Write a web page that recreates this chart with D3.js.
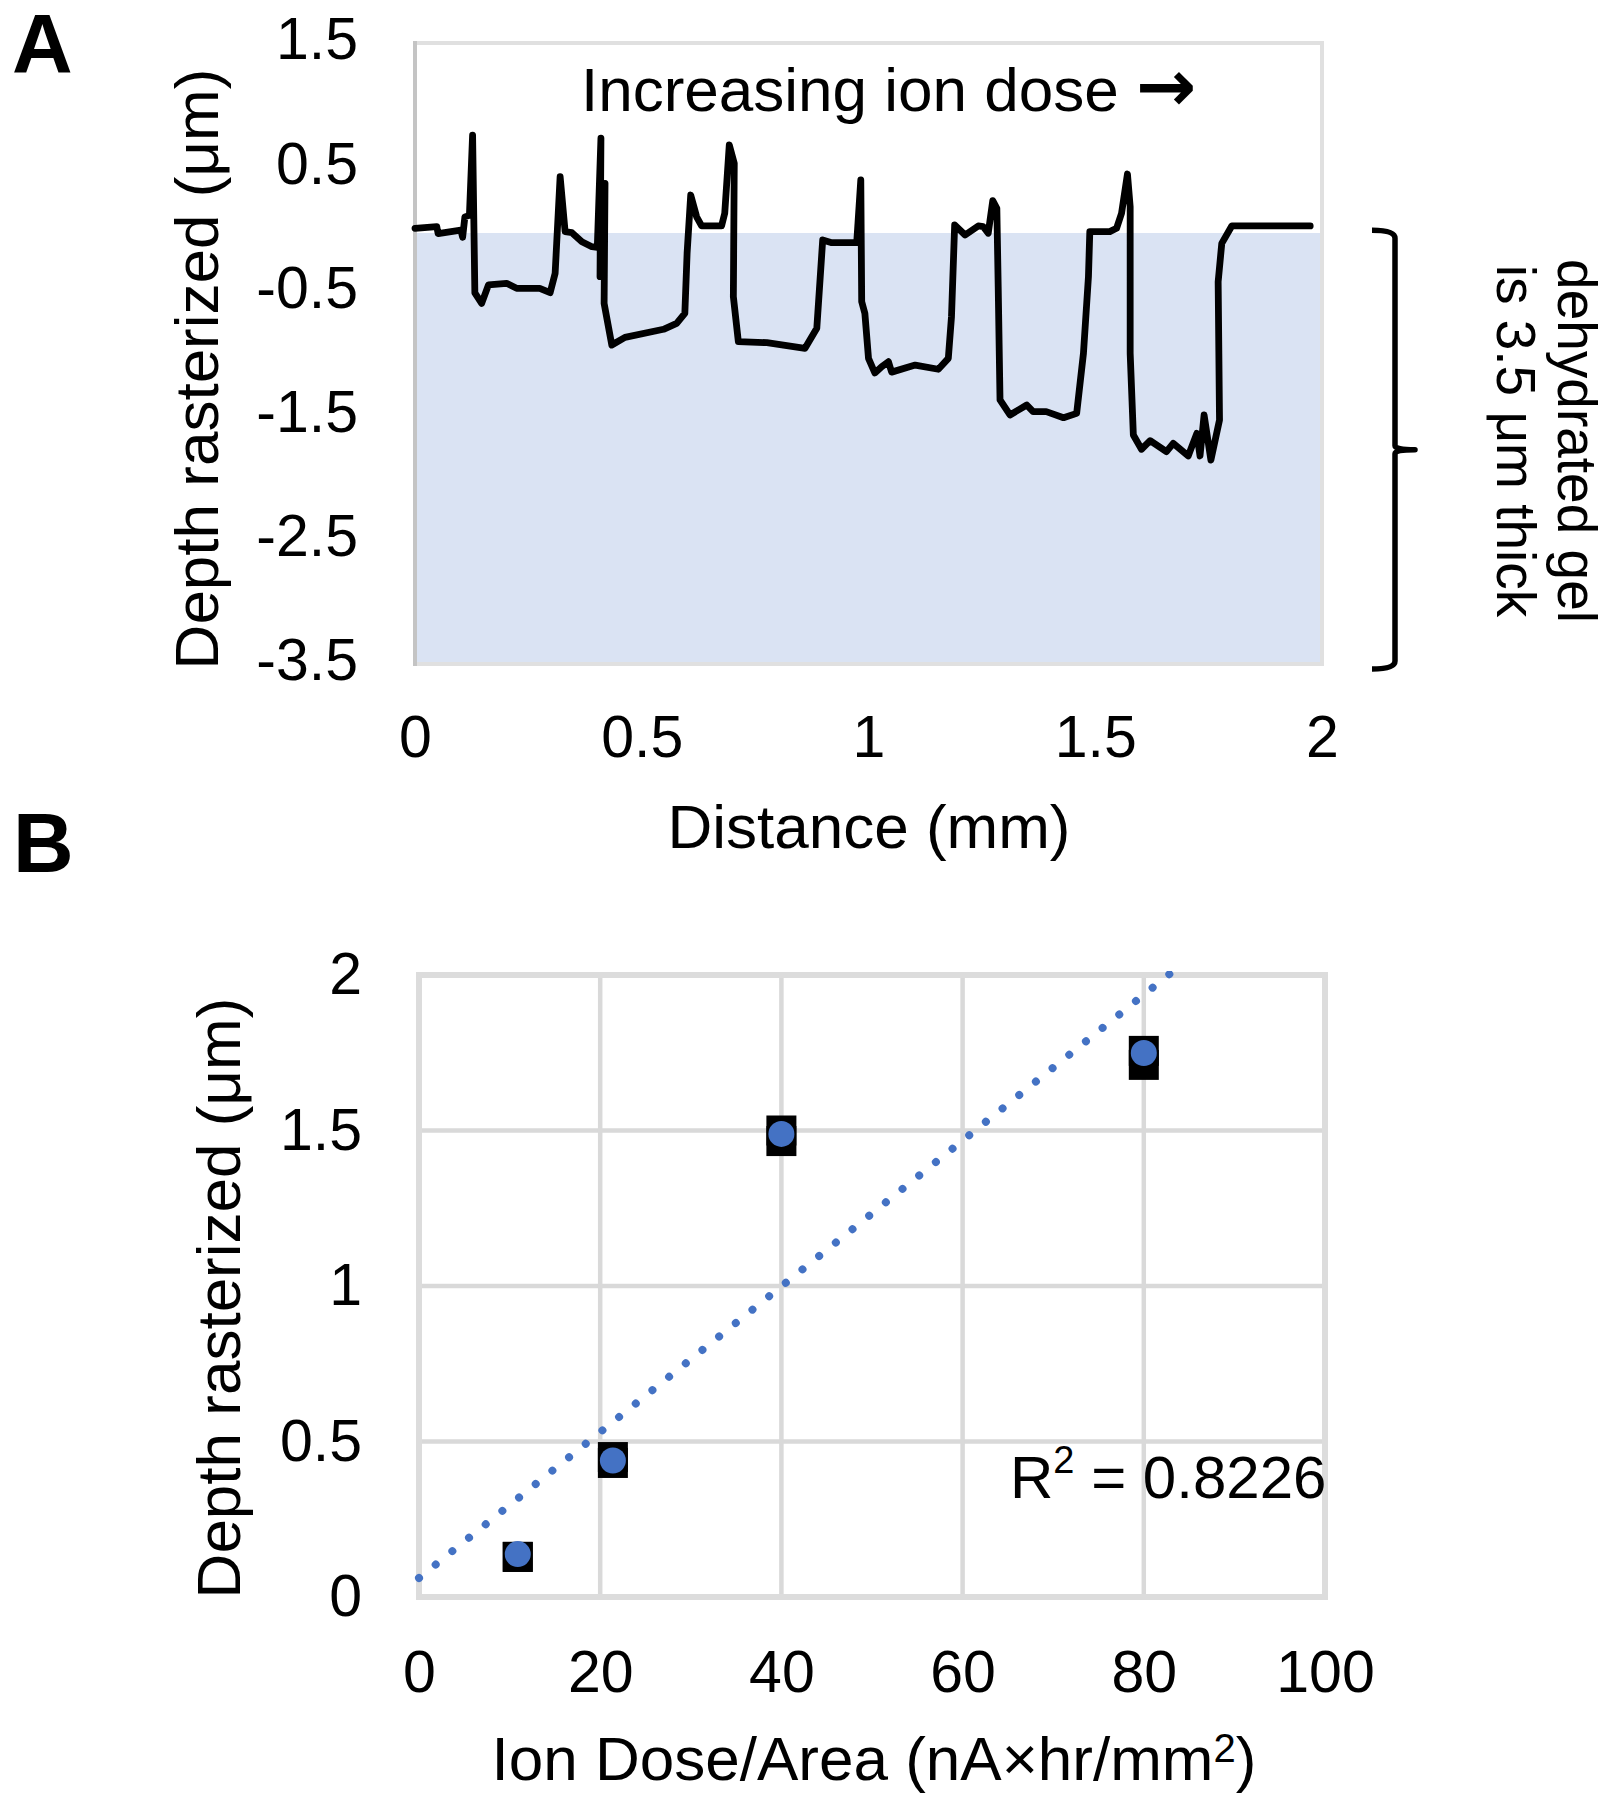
<!DOCTYPE html>
<html>
<head>
<meta charset="utf-8">
<script src="https://cdn.jsdelivr.net/npm/d3@7"></script>
<style>
  html, body { margin: 0; padding: 0; background: #ffffff; }
  svg { display: block; }
</style>
</head>
<body>
<div id="chart"></div>
<script>
// ---------------- Panel A data: surface profile ----------------
const profileDist = [
  0.000, 0.048, 0.051, 0.101, 0.105, 0.110, 0.120, 0.127, 0.132, 0.147,
  0.162, 0.202, 0.224, 0.275, 0.298, 0.309, 0.320, 0.331, 0.346, 0.368,
  0.390, 0.402, 0.410, 0.408, 0.419, 0.417, 0.434, 0.463, 0.548, 0.577,
  0.595, 0.600, 0.608, 0.621, 0.632, 0.676, 0.683, 0.693, 0.704, 0.702,
  0.713, 0.776, 0.860, 0.886, 0.899, 0.919, 0.974, 0.983, 0.985, 0.992,
  1.000, 1.014, 1.029, 1.044, 1.051, 1.103, 1.154, 1.176, 1.183, 1.190,
  1.213, 1.242, 1.253, 1.264, 1.274, 1.283, 1.286, 1.290, 1.312, 1.349,
  1.363, 1.392, 1.430, 1.459, 1.474, 1.485, 1.488, 1.532, 1.547, 1.558,
  1.571, 1.577, 1.577, 1.584, 1.602, 1.621, 1.657, 1.672, 1.705, 1.724,
  1.731, 1.740, 1.755, 1.774, 1.771, 1.779, 1.801, 1.974
];
const profileDepth = [
  0.008, 0.021, -0.035, -0.006, -0.064, 0.100, 0.112, 0.759, -0.512, -0.596,
  -0.448, -0.435, -0.475, -0.475, -0.510, -0.355, 0.424, -0.019, -0.027, -0.100,
  -0.140, -0.145, 0.733, -0.381, 0.370, -0.596, -0.932, -0.870, -0.805, -0.757,
  -0.677, -0.193, 0.276, 0.101, 0.027, 0.027, 0.129, 0.679, 0.531, -0.543,
  -0.905, -0.913, -0.958, -0.797, -0.086, -0.108, -0.108, 0.397, -0.583, -0.677,
  -1.039, -1.157, -1.106, -1.066, -1.150, -1.093, -1.127, -1.039, -0.704, 0.035,
  -0.046, 0.027, 0.021, -0.032, 0.230, 0.169, -0.462, -1.374, -1.495, -1.415,
  -1.468, -1.468, -1.517, -1.482, -0.998, -0.381, -0.019, -0.019, 0.008, 0.129,
  0.445, 0.182, -0.998, -1.656, -1.771, -1.702, -1.790, -1.723, -1.825, -1.643,
  -1.825, -1.495, -1.858, -1.535, -0.422, -0.113, 0.027, 0.027
];
const gelTop = -0.03;
const gelBottom = -3.5;
const tickAY = [1.5, 0.5, -0.5, -1.5, -2.5, -3.5];
const tickAX = [0, 0.5, 1, 1.5, 2];

// ---------------- Panel B data: depth vs dose ----------------
const doseX = [10.9, 21.4, 40, 80];
const depthCircle = [0.138, 0.439, 1.489, 1.749];
const depthSquareHi = [0.129, 0.450, 1.500, 1.756];
const depthSquareLo = [0.129, 0.431, 1.466, 1.711];
const tickBY = [0, 0.5, 1, 1.5, 2];
const tickBX = [0, 20, 40, 60, 80, 100];
const r2Text = "0.8226";

// ---------------- Drawing ----------------
const FONT = "'Liberation Sans', Arial, Helvetica, sans-serif";
const W = 1609, H = 1800;
const svg = d3.select("#chart").append("svg")
  .attr("width", W).attr("height", H)
  .style("background", "#ffffff")
  .attr("font-family", FONT);

// ===== Panel A =====
const xA = d3.scaleLinear().domain([0, 2]).range([415, 1322]);
const yA = d3.scaleLinear().domain([-3.5, 1.5]).range([664, 43]);

// gel shading
svg.append("rect")
  .attr("x", xA(0)).attr("y", yA(gelTop))
  .attr("width", xA(2) - xA(0)).attr("height", yA(gelBottom) - yA(gelTop))
  .attr("fill", "#DAE3F3");

// frame
svg.append("rect")
  .attr("x", xA(0)).attr("y", yA(1.5))
  .attr("width", xA(2) - xA(0)).attr("height", yA(-3.5) - yA(1.5))
  .attr("fill", "none").attr("stroke", "#e0e0e0").attr("stroke-width", 4);
svg.append("line")
  .attr("x1", xA(0)).attr("x2", xA(0)).attr("y1", yA(1.5) - 2).attr("y2", yA(-3.5) + 2)
  .attr("stroke", "#c4c4c4").attr("stroke-width", 4);

// profile line
const profile = d3.zip(profileDist, profileDepth);
svg.append("path")
  .datum(profile)
  .attr("d", d3.line().x(d => xA(d[0])).y(d => yA(d[1])))
  .attr("fill", "none").attr("stroke", "#000").attr("stroke-width", 6.8)
  .attr("stroke-linejoin", "round").attr("stroke-linecap", "round");

// axes A
const axAY = svg.append("g").attr("transform", `translate(${xA(0)},0)`)
  .call(d3.axisLeft(yA).tickValues(tickAY).tickSize(0).tickPadding(57).tickFormat(d => String(d)));
axAY.select(".domain").remove();
axAY.attr("font-size", 59).attr("font-family", FONT).attr("color", "#000");
axAY.selectAll("text").attr("dy", "0.27em");

const axAX = svg.append("g").attr("transform", `translate(0,${yA(-3.5)})`)
  .call(d3.axisBottom(xA).tickValues(tickAX).tickSize(0).tickPadding(51).tickFormat(d => String(d)));
axAX.select(".domain").remove();
axAX.attr("font-size", 59).attr("font-family", FONT).attr("color", "#000");

// titles A
svg.append("text").attr("transform", "translate(218,369) rotate(-90)")
  .attr("text-anchor", "middle").attr("font-size", 62).text("Depth rasterized (μm)");
svg.append("text").attr("x", 869).attr("y", 848)
  .attr("text-anchor", "middle").attr("font-size", 62).text("Distance (mm)");
const doseTitle = svg.append("text").attr("x", 581).attr("y", 111).attr("font-size", 62);
doseTitle.append("tspan").text("Increasing ion dose ");
doseTitle.append("tspan").attr("font-family", "'DejaVu Sans', sans-serif")
  .attr("font-weight", "bold").attr("font-size", 72).text("→");
svg.append("text").attr("x", 12).attr("y", 73)
  .attr("font-size", 84).attr("font-weight", "bold").text("A");

// bracket
const bTop = yA(0) + 3, bBot = yA(gelBottom) + 3, bMid = (bTop + bBot) / 2;
const bx = 1395;
const bracket = `M${bx - 23},${bTop - 2} Q${bx},${bTop - 2} ${bx},${bTop + 6} L${bx},${bMid - 4}
  Q${bx},${bMid} ${bx + 20},${bMid} Q${bx},${bMid} ${bx},${bMid + 4}
  L${bx},${bBot - 6} Q${bx},${bBot + 2} ${bx - 23},${bBot + 2}`;
svg.append("path").attr("d", bracket)
  .attr("fill", "none").attr("stroke", "#000").attr("stroke-width", 5.5)
  .attr("stroke-linejoin", "round");

const gelText = svg.append("g").attr("font-size", 55).attr("text-anchor", "middle");
gelText.append("text").attr("transform", "translate(1558,441) rotate(90)").text("dehydrated gel");
gelText.append("text").attr("transform", "translate(1497,441) rotate(90)").text("is 3.5 μm thick");

// ===== Panel B =====
const xB = d3.scaleLinear().domain([0, 100]).range([419, 1325]);
const yB = d3.scaleLinear().domain([0, 2]).range([1597, 975]);

// gridlines
svg.append("g").selectAll("line").data(tickBY.slice(1, -1)).join("line")
  .attr("x1", xB(0)).attr("x2", xB(100)).attr("y1", d => yB(d)).attr("y2", d => yB(d))
  .attr("stroke", "#d9d9d9").attr("stroke-width", 4.5);
svg.append("g").selectAll("line").data(tickBX.slice(1, -1)).join("line")
  .attr("y1", yB(0)).attr("y2", yB(2)).attr("x1", d => xB(d)).attr("x2", d => xB(d))
  .attr("stroke", "#d9d9d9").attr("stroke-width", 4.5);
svg.append("rect")
  .attr("x", xB(0)).attr("y", yB(2))
  .attr("width", xB(100) - xB(0)).attr("height", yB(0) - yB(2))
  .attr("fill", "none").attr("stroke", "#dcdcdc").attr("stroke-width", 6);

// trendline (least squares of the plotted circles, as the spreadsheet does)
const mx = d3.mean(doseX), my = d3.mean(depthCircle);
let sxy = 0, sxx = 0;
doseX.forEach((x, i) => { sxy += (x - mx) * (depthCircle[i] - my); sxx += (x - mx) * (x - mx); });
const slope = sxy / sxx, intercept = my - slope * mx;
svg.append("clipPath").attr("id", "clipB").append("rect")
  .attr("x", xB(0) - 5).attr("y", yB(2) - 4)
  .attr("width", xB(100) - xB(0) + 10).attr("height", yB(0) - yB(2) + 8);
svg.append("path")
  .datum([0, 100])
  .attr("clip-path", "url(#clipB)")
  .attr("d", d3.line().x(d => xB(d)).y(d => yB(intercept + slope * d)))
  .attr("fill", "none").attr("stroke", "#4472C4").attr("stroke-width", 8)
  .attr("stroke-linecap", "round").attr("stroke-dasharray", "0.001 21.4");

// markers
const sq = 30;
const pts = doseX.map((x, i) => ({ x, hi: depthSquareHi[i], lo: depthSquareLo[i], c: depthCircle[i] }));
svg.append("g").selectAll("rect").data(pts.flatMap(p => [{ x: p.x, y: p.hi }, { x: p.x, y: p.lo }])).join("rect")
  .attr("x", d => xB(d.x) - sq / 2).attr("y", d => yB(d.y) - sq / 2)
  .attr("width", sq).attr("height", sq).attr("fill", "#000");
svg.append("g").selectAll("circle").data(pts).join("circle")
  .attr("cx", d => xB(d.x)).attr("cy", d => yB(d.c)).attr("r", 13)
  .attr("fill", "#4472C4");

// axes B
const axBY = svg.append("g").attr("transform", `translate(${xB(0)},0)`)
  .call(d3.axisLeft(yB).tickValues(tickBY).tickSize(0).tickPadding(57).tickFormat(d => String(d)));
axBY.select(".domain").remove();
axBY.attr("font-size", 59).attr("font-family", FONT).attr("color", "#000");

const axBX = svg.append("g").attr("transform", `translate(0,${yB(0)})`)
  .call(d3.axisBottom(xB).tickValues(tickBX).tickSize(0).tickPadding(53).tickFormat(d => String(d)));
axBX.select(".domain").remove();
axBX.attr("font-size", 59).attr("font-family", FONT).attr("color", "#000");

// titles B
svg.append("text").attr("transform", "translate(240,1298) rotate(-90)")
  .attr("text-anchor", "middle").attr("font-size", 62).text("Depth rasterized (μm)");
const xt = svg.append("text").attr("x", 874).attr("y", 1780)
  .attr("text-anchor", "middle").attr("font-size", 62);
xt.append("tspan").text("Ion Dose/Area (nA×hr/mm");
xt.append("tspan").attr("font-size", 40).attr("dy", -18).text("2");
xt.append("tspan").attr("dy", 18).text(")");

const r2 = svg.append("text").attr("x", 1010).attr("y", 1498).attr("font-size", 60);
r2.append("tspan").text("R");
r2.append("tspan").attr("font-size", 38).attr("dy", -25).text("2");
r2.append("tspan").attr("dy", 25).text(" = " + r2Text);

svg.append("text").attr("x", 13).attr("y", 872)
  .attr("font-size", 84).attr("font-weight", "bold").text("B");
</script>
</body>
</html>
